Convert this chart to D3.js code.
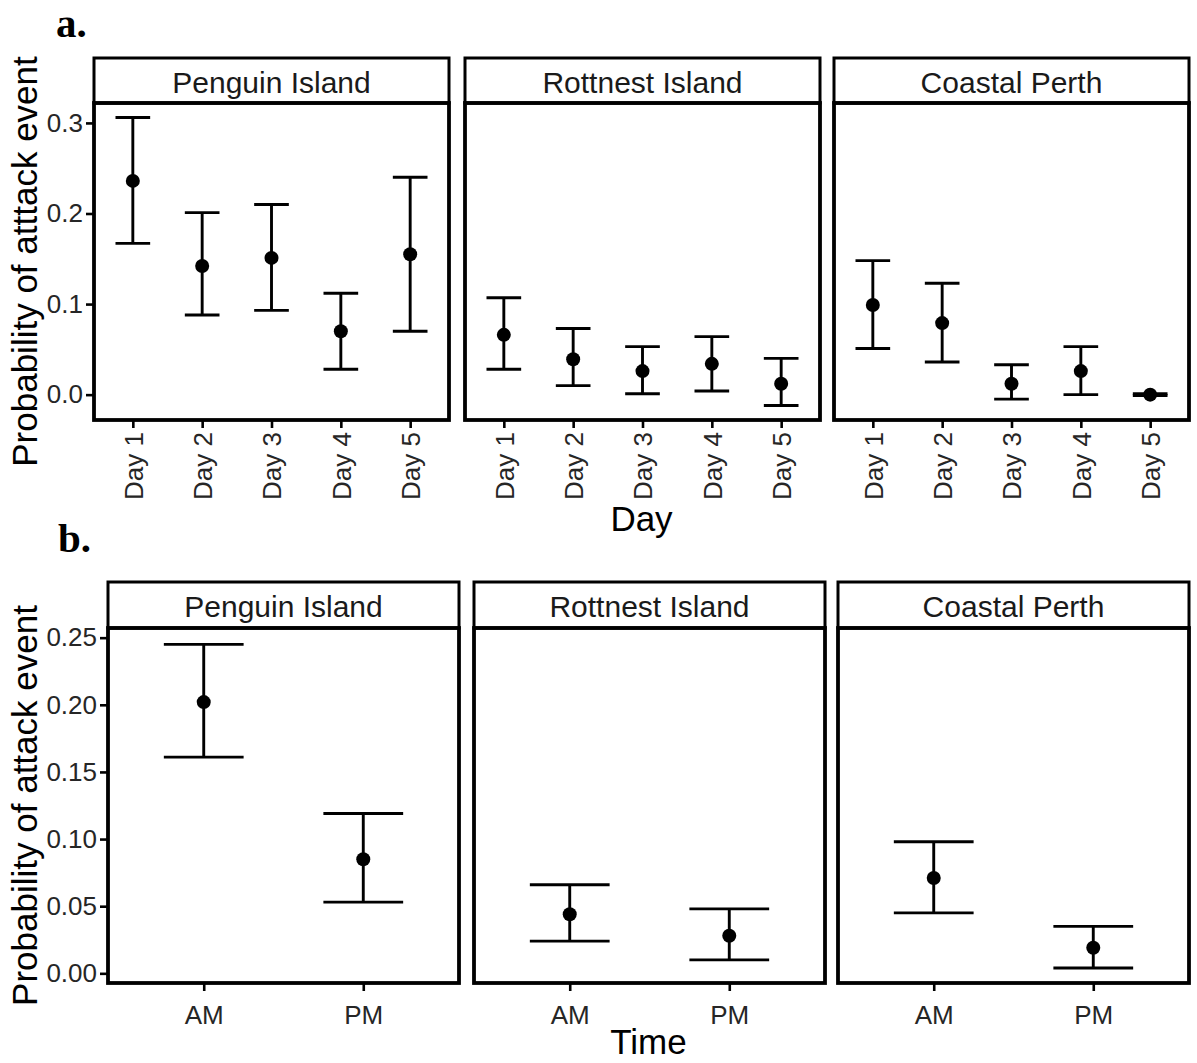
<!DOCTYPE html>
<html>
<head>
<meta charset="utf-8">
<script src="https://cdn.jsdelivr.net/npm/d3@7"></script>
<style>
  html, body { margin: 0; padding: 0; background: #fff; }
  svg { display: block; font-family: "Liberation Sans", Arial, sans-serif; }
</style>
</head>
<body>
<svg id="chart" width="1197" height="1063"></svg>
<script>
// ---------- data ----------
const sites = ["Penguin Island", "Rottnest Island", "Coastal Perth"];
const days = ["Day 1", "Day 2", "Day 3", "Day 4", "Day 5"];
const times = ["AM", "PM"];

// panel a: probability of attack event by day (one inner array per site)
const dayMean  = [[0.236, 0.142, 0.151, 0.070, 0.155],
                  [0.066, 0.039, 0.026, 0.034, 0.012],
                  [0.099, 0.079, 0.012, 0.026, 0.000]];
const dayLower = [[0.167, 0.088, 0.093, 0.028, 0.070],
                  [0.028, 0.010, 0.001, 0.004, -0.012],
                  [0.051, 0.036, -0.005, 0.000, -0.001]];
const dayUpper = [[0.306, 0.201, 0.210, 0.112, 0.240],
                  [0.107, 0.073, 0.053, 0.064, 0.040],
                  [0.148, 0.123, 0.033, 0.053, 0.001]];

// panel b: probability of attack event by time of day
const timeMean  = [[0.202, 0.085], [0.044, 0.028], [0.071, 0.019]];
const timeLower = [[0.161, 0.053], [0.024, 0.010], [0.045, 0.004]];
const timeUpper = [[0.245, 0.119], [0.066, 0.048], [0.098, 0.035]];

const dayTicks  = [0.0, 0.1, 0.2, 0.3];
const timeTicks = [0.00, 0.05, 0.10, 0.15, 0.20, 0.25];

// ---------- drawing ----------
const svg = d3.select("#chart");
const TICK_FONT = 26, STRIP_FONT = 30, TITLE_FONT = 35;

function drawRow(cfg) {
  const g = svg.append("g");
  const y = d3.scaleLinear().domain(cfg.yDomain).range([cfg.plotBottom, cfg.stripBottom]);

  sites.forEach((site, i) => {
    const x0 = cfg.panelX[i], x1 = x0 + cfg.panelW;
    const x = d3.scalePoint().domain(cfg.cats).range([x0, x1]).padding(cfg.pad);
    const step = x.step();
    const p = g.append("g");

    // strip
    p.append("rect")
      .attr("x", x0).attr("y", cfg.stripTop)
      .attr("width", cfg.panelW).attr("height", cfg.stripBottom - cfg.stripTop)
      .attr("fill", "#fff").attr("stroke", "#000").attr("stroke-width", 3);
    p.append("text")
      .attr("x", (x0 + x1) / 2).attr("y", cfg.stripTop + 35)
      .attr("text-anchor", "middle").attr("font-size", STRIP_FONT).attr("fill", "#1a1a1a")
      .text(site);

    // panel border
    p.append("rect")
      .attr("x", x0).attr("y", cfg.stripBottom)
      .attr("width", cfg.panelW).attr("height", cfg.plotBottom - cfg.stripBottom)
      .attr("fill", "none").attr("stroke", "#000").attr("stroke-width", 3.8);

    // x axis ticks + labels
    const xAxis = d3.axisBottom(x).tickSize(8).tickPadding(cfg.rotate ? 6 : 10);
    const ax = p.append("g").attr("transform", `translate(0,${cfg.plotBottom})`).call(xAxis);
    ax.select(".domain").remove();
    ax.selectAll(".tick line").attr("stroke", "#000").attr("stroke-width", 2.6);
    ax.selectAll(".tick text")
      .attr("font-size", TICK_FONT).attr("fill", "#262626")
      .attr("font-family", "Liberation Sans, Arial, sans-serif");
    if (cfg.rotate) {
      ax.selectAll(".tick text")
        .attr("text-anchor", "end")
        .attr("transform", "rotate(-90)")
        .attr("x", -12).attr("y", 0).attr("dy", "0.36em");
    } else {
      ax.selectAll(".tick text").attr("dy", "0.9em");
    }

    // y axis on first panel only
    if (i === 0) {
      const yAxis = d3.axisLeft(y).tickValues(cfg.ticks).tickFormat(d3.format(cfg.fmt))
        .tickSize(8).tickPadding(3);
      const ay = p.append("g").attr("transform", `translate(${x0},0)`).call(yAxis);
      ay.select(".domain").remove();
      ay.selectAll(".tick line").attr("stroke", "#000").attr("stroke-width", 2.6);
      ay.selectAll(".tick text").attr("font-size", TICK_FONT).attr("fill", "#262626")
        .attr("font-family", "Liberation Sans, Arial, sans-serif");
    }

    // error bars + points
    const rows = cfg.cats.map((c, j) => ({
      c, m: cfg.mean[i][j], lo: cfg.lower[i][j], hi: cfg.upper[i][j]
    }));
    const hw = step * 0.25;
    const eb = p.append("g").attr("stroke", "#000").attr("stroke-width", 2.9);
    eb.selectAll("line.v").data(rows).join("line").attr("class", "v")
      .attr("x1", d => x(d.c)).attr("x2", d => x(d.c))
      .attr("y1", d => y(d.lo)).attr("y2", d => y(d.hi));
    eb.selectAll("line.t").data(rows).join("line").attr("class", "t")
      .attr("x1", d => x(d.c) - hw).attr("x2", d => x(d.c) + hw)
      .attr("y1", d => y(d.hi)).attr("y2", d => y(d.hi));
    eb.selectAll("line.b").data(rows).join("line").attr("class", "b")
      .attr("x1", d => x(d.c) - hw).attr("x2", d => x(d.c) + hw)
      .attr("y1", d => y(d.lo)).attr("y2", d => y(d.lo));
    p.selectAll("circle").data(rows).join("circle")
      .attr("cx", d => x(d.c)).attr("cy", d => y(d.m)).attr("r", 7).attr("fill", "#000");
  });

  // axis titles
  g.append("text")
    .attr("x", (cfg.panelX[0] + cfg.panelX[2] + cfg.panelW) / 2).attr("y", cfg.xTitleY)
    .attr("text-anchor", "middle").attr("font-size", TITLE_FONT).attr("fill", "#000")
    .text(cfg.xTitle);
  g.append("text")
    .attr("transform", `translate(37,${(cfg.stripBottom + cfg.plotBottom) / 2}) rotate(-90)`)
    .attr("text-anchor", "middle").attr("font-size", TITLE_FONT).attr("fill", "#000")
    .text(cfg.yTitle);
  // tag
  g.append("text")
    .attr("x", cfg.tagX).attr("y", cfg.tagY)
    .attr("font-family", "Liberation Serif, 'Times New Roman', serif")
    .attr("font-weight", "bold").attr("font-size", 41).attr("fill", "#000")
    .text(cfg.tag);
}

drawRow({
  cats: days, mean: dayMean, lower: dayLower, upper: dayUpper,
  panelX: [94, 465, 834], panelW: 355, pad: 0.56,
  stripTop: 58, stripBottom: 103, plotBottom: 420,
  yDomain: [-0.028, 0.322], ticks: dayTicks, fmt: ".1f", rotate: true,
  xTitle: "Day", xTitleY: 531, yTitle: "Probability of atttack event",
  tag: "a.", tagX: 56, tagY: 36.5
});

drawRow({
  cats: times, mean: timeMean, lower: timeLower, upper: timeUpper,
  panelX: [108, 474, 838], panelW: 351, pad: 0.6,
  stripTop: 582, stripBottom: 628, plotBottom: 983,
  yDomain: [-0.0072, 0.2572], ticks: timeTicks, fmt: ".2f", rotate: false,
  xTitle: "Time", xTitleY: 1054, yTitle: "Probability of attack event",
  tag: "b.", tagX: 58, tagY: 552
});
</script>
</body>
</html>
